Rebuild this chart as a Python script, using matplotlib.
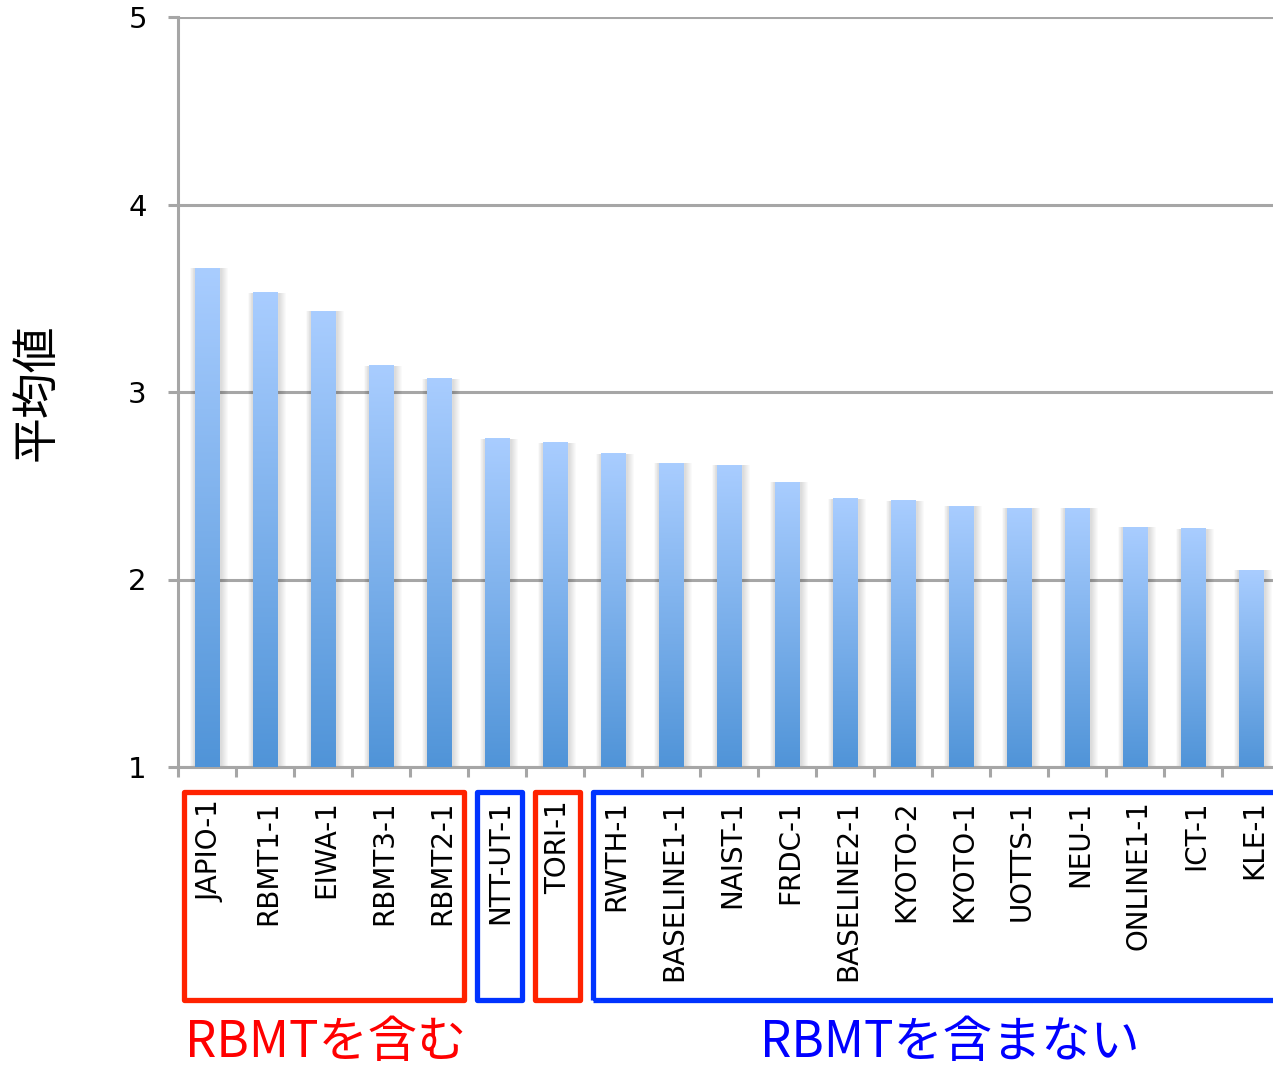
import matplotlib
matplotlib.use("Agg")
import matplotlib.pyplot as plt
import numpy as np
from matplotlib.patches import Rectangle
from matplotlib.colors import LinearSegmentedColormap
import matplotlib.transforms as mtransforms

# ---- data ----
systems = ["JAPIO-1", "RBMT1-1", "EIWA-1", "RBMT3-1", "RBMT2-1", "NTT-UT-1",
           "TORI-1", "RWTH-1", "BASELINE1-1", "NAIST-1", "FRDC-1", "BASELINE2-1",
           "KYOTO-2", "KYOTO-1", "UOTTS-1", "NEU-1", "ONLINE1-1", "ICT-1", "KLE-1"]
scores = [3.66, 3.53, 3.43, 3.14, 3.07, 2.75, 2.73, 2.67, 2.62, 2.61, 2.52,
          2.43, 2.42, 2.39, 2.38, 2.38, 2.28, 2.27, 2.05]
y_ticks = [1, 2, 3, 4, 5]
y_label = "平均値"
# groups: (first index, last index, kind)
groups = [(0, 4, "rbmt"), (5, 5, "no"), (6, 6, "rbmt"), (7, 18, "no")]
group_texts = {"rbmt": "RBMTを含む", "no": "RBMTを含まない"}

W, H = 1273, 1068
fig = plt.figure(figsize=(W / 100, H / 100), dpi=100)
px = 1 / 58.0  # one pixel in data units along x

ax = fig.add_axes([178 / W, 301 / H, 1102 / W, 750 / H])
n = len(systems)
x = np.arange(n)
bw = 0.42

grid_c = "#A6A6A6"
ax.set_xlim(-0.5, n - 0.5)
ax.set_ylim(1, 5)
ax.set_yticks(y_ticks)
ax.yaxis.grid(True, color=grid_c, linewidth=2.2, zorder=0)
ax.set_axisbelow(True)
for s in ["top", "right"]:
    ax.spines[s].set_visible(False)
for s in ["left", "bottom"]:
    ax.spines[s].set_color(grid_c)
    ax.spines[s].set_linewidth(2.2)

# bars: soft shadow + vertical gradient
cmap = LinearSegmentedColormap.from_list("g", ["#5094D8", "#A9CDFF"])
grad = np.linspace(0, 1, 256).reshape(-1, 1)
for xi, v in zip(x, scores):
    for k in range(7):
        ax.add_patch(Rectangle((xi - bw / 2 - (1 + k * 0.6) * px, 1),
                               bw + (4 + k * 1.6) * px, v - 1,
                               facecolor="black", alpha=0.02, linewidth=0, zorder=2))
    ax.imshow(grad, extent=[xi - bw / 2, xi + bw / 2, 1, v], origin="lower",
              cmap=cmap, aspect="auto", zorder=3, interpolation="bilinear")
ax.set_xlim(-0.5, n - 0.5)
ax.set_ylim(1, 5)

# x ticks: labels at categories, marks at boundaries
ax.set_xticks(x + 3 * px)
ax.set_xticklabels(systems, rotation=90, fontsize=20, family="DejaVu Sans",
                   va="top", ha="center")
ax.tick_params(axis="x", which="major", length=0, pad=24)
ax.set_xticks(np.arange(-0.5, n, 1.0), minor=True)
ax.tick_params(axis="x", which="minor", length=7.5, width=2.2, color=grid_c,
               direction="out")
ax.tick_params(axis="y", length=7.5, width=2.2, color=grid_c, pad=15,
               labelsize=21)
for t in ax.get_yticklabels():
    t.set_family("DejaVu Sans")

fig.text(36 / W, 1 - 392 / H, y_label, rotation=90, ha="center", va="center",
         fontsize=33, family=["Noto Sans CJK JP", "DejaVu Sans"])

# group boxes and labels
trans = mtransforms.blended_transform_factory(ax.transData, fig.transFigure)
box_col = {"rbmt": "#FF2200", "no": "#0033FF"}
txt_col = {"rbmt": "#FF0000", "no": "#0000FF"}
y_top = 1 - 792 / H
y_bot = 1 - 1000 / H
for a, b, kind in groups:
    x0 = a - 0.5 + (9 if a > 0 else 6) * px
    x1 = b + 0.5 - 4 * px if b < n - 1 else b + 2
    ax.add_patch(Rectangle((x0, y_bot), x1 - x0, y_top - y_bot, transform=trans,
                           fill=False, edgecolor=box_col[kind], linewidth=3.8,
                           joinstyle="round", clip_on=False, zorder=5))

ax.text(2.05, 1 - 1043 / H, group_texts["rbmt"], transform=trans, ha="center",
        va="center", fontsize=35.5, color=txt_col["rbmt"],
        family=["Noto Sans CJK JP", "DejaVu Sans"])
ax.text(12.81, 1 - 1043 / H, group_texts["no"], transform=trans, ha="center",
        va="center", fontsize=35.5, color=txt_col["no"],
        family=["Noto Sans CJK JP", "DejaVu Sans"])

fig.savefig("out.png", dpi=100)
